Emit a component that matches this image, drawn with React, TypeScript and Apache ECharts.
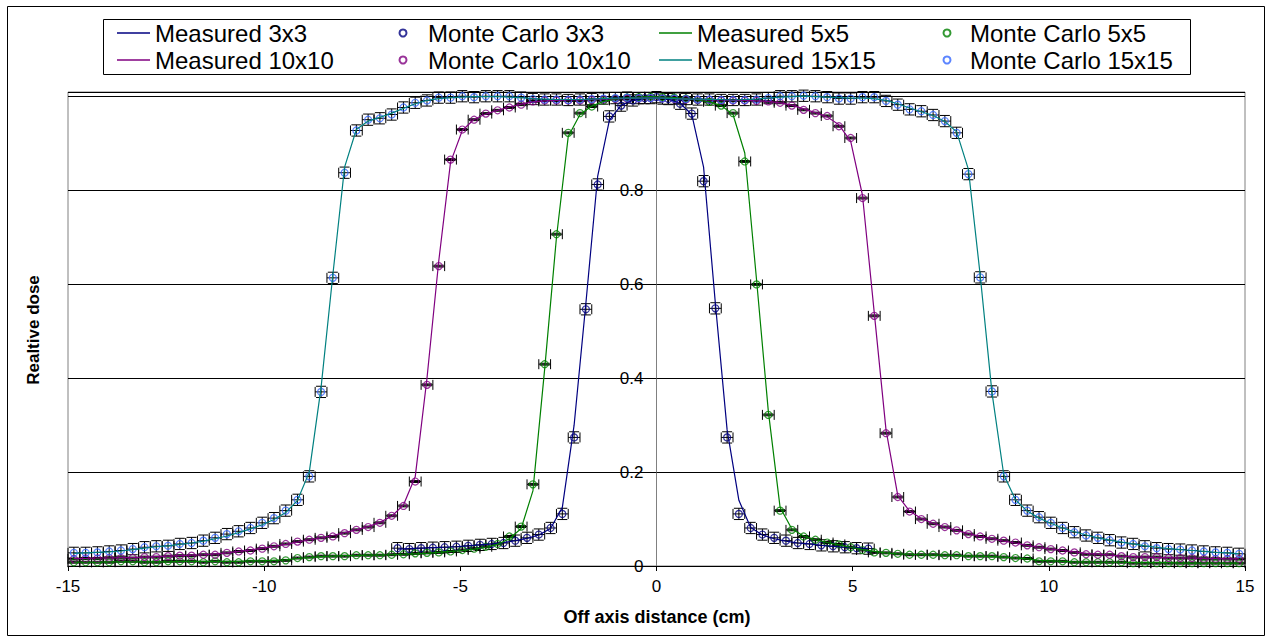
import React, { useEffect, useRef } from 'react';
import * as echarts from 'echarts';

const FONT = '"Liberation Sans", Arial, Helvetica, sans-serif';

// ---- x positions (cm) ----
const xVoxel = [
  -14.85, -14.55, -14.25, -13.95, -13.65, -13.35, -13.05, -12.75, -12.45, -12.15,
  -11.85, -11.55, -11.25, -10.95, -10.65, -10.35, -10.05, -9.75, -9.45, -9.15,
  -8.85, -8.55, -8.25, -7.95, -7.65, -7.35, -7.05, -6.75, -6.45, -6.15,
  -5.85, -5.55, -5.25, -4.95, -4.65, -4.35, -4.05, -3.75, -3.45, -3.15,
  -2.85, -2.55, -2.25, -1.95, -1.65, -1.35, -1.05, -0.75, -0.45, -0.15,
  0.15, 0.45, 0.75, 1.05, 1.35, 1.65, 1.95, 2.25, 2.55, 2.85,
  3.15, 3.45, 3.75, 4.05, 4.35, 4.65, 4.95, 5.25, 5.55, 5.85,
  6.15, 6.45, 6.75, 7.05, 7.35, 7.65, 7.95, 8.25, 8.55, 8.85,
  9.15, 9.45, 9.75, 10.05, 10.35, 10.65, 10.95, 11.25, 11.55, 11.85,
  12.15, 12.45, 12.75, 13.05, 13.35, 13.65, 13.95, 14.25, 14.55, 14.85,
];
const x3 = [
  -6.6, -6.3, -6.0, -5.7, -5.4, -5.1, -4.8, -4.5, -4.2, -3.9,
  -3.6, -3.3, -3.0, -2.7, -2.4, -2.1, -1.8, -1.5, -1.2, -0.9,
  -0.6, -0.3, 0, 0.3, 0.6, 0.9, 1.2, 1.5, 1.8, 2.1,
  2.4, 2.7, 3.0, 3.3, 3.6, 3.9, 4.2, 4.5, 4.8, 5.1, 5.4,
];

// ---- 3x3 ----
const measured3 = [
  0.036, 0.037, 0.038, 0.039, 0.040, 0.041, 0.043, 0.045, 0.047, 0.050,
  0.054, 0.059, 0.066, 0.080, 0.125, 0.300, 0.560, 0.830, 0.950, 0.982,
  0.992, 0.997, 0.999, 0.995, 0.986, 0.962, 0.850, 0.560, 0.290, 0.140,
  0.082, 0.066, 0.058, 0.053, 0.049, 0.047, 0.044, 0.042, 0.040, 0.039, 0.037,
];
const monteCarlo3 = [
  0.038, 0.036, 0.038, 0.039, 0.040, 0.041, 0.043, 0.045, 0.047, 0.049,
  0.054, 0.060, 0.067, 0.081, 0.111, 0.274, 0.547, 0.813, 0.958, 0.981,
  0.992, 0.997, 0.999, 0.995, 0.985, 0.964, 0.820, 0.549, 0.274, 0.111,
  0.081, 0.067, 0.060, 0.054, 0.049, 0.047, 0.044, 0.042, 0.040, 0.038, 0.037,
];

// ---- 5x5 ----
const measured5 = [
  0.008, 0.008, 0.008, 0.009, 0.009, 0.009, 0.009, 0.009, 0.009, 0.010,
  0.010, 0.010, 0.010, 0.010, 0.010, 0.011, 0.011, 0.012, 0.013, 0.016,
  0.018, 0.020, 0.021, 0.022, 0.022, 0.023, 0.023, 0.024, 0.025, 0.026,
  0.027, 0.029, 0.031, 0.033, 0.036, 0.040, 0.046, 0.058, 0.080, 0.160,
  0.420, 0.700, 0.915, 0.962, 0.980, 0.990, 0.995, 0.997, 0.999, 1.000,
  0.999, 0.998, 0.996, 0.993, 0.989, 0.981, 0.962, 0.880, 0.610, 0.330,
  0.125, 0.079, 0.064, 0.056, 0.050, 0.045, 0.040, 0.035, 0.031, 0.028,
  0.026, 0.025, 0.024, 0.023, 0.023, 0.022, 0.021, 0.021, 0.020, 0.019,
  0.017, 0.015, 0.012, 0.011, 0.010, 0.009, 0.009, 0.008, 0.008, 0.008,
  0.007, 0.007, 0.007, 0.007, 0.006, 0.006, 0.006, 0.006, 0.006, 0.006,
];
const monteCarlo5 = [
  0.008, 0.008, 0.008, 0.008, 0.010, 0.010, 0.008, 0.008, 0.010, 0.010,
  0.010, 0.008, 0.010, 0.008, 0.008, 0.010, 0.010, 0.010, 0.012, 0.017,
  0.019, 0.021, 0.021, 0.021, 0.023, 0.023, 0.023, 0.024, 0.025, 0.027,
  0.028, 0.029, 0.031, 0.034, 0.037, 0.041, 0.047, 0.063, 0.084, 0.174,
  0.430, 0.707, 0.923, 0.965, 0.979, 0.992, 0.996, 0.998, 0.999, 1.000,
  0.999, 0.998, 0.996, 0.993, 0.989, 0.981, 0.965, 0.862, 0.600, 0.322,
  0.118, 0.077, 0.063, 0.056, 0.050, 0.046, 0.040, 0.034, 0.029, 0.028,
  0.026, 0.024, 0.024, 0.024, 0.023, 0.023, 0.021, 0.021, 0.021, 0.019,
  0.017, 0.016, 0.010, 0.010, 0.010, 0.008, 0.008, 0.008, 0.008, 0.008,
  0.006, 0.006, 0.006, 0.006, 0.006, 0.006, 0.006, 0.006, 0.006, 0.006,
];

// ---- 10x10 ----
const measured10 = [
  0.016, 0.016, 0.017, 0.017, 0.018, 0.018, 0.019, 0.020, 0.021, 0.022,
  0.023, 0.024, 0.026, 0.028, 0.031, 0.034, 0.038, 0.042, 0.046, 0.051,
  0.056, 0.060, 0.065, 0.071, 0.077, 0.084, 0.093, 0.106, 0.130, 0.190,
  0.400, 0.650, 0.860, 0.928, 0.952, 0.963, 0.971, 0.978, 0.984, 0.989,
  0.991, 0.992, 0.993, 0.993, 0.994, 0.995, 0.996, 0.996, 0.997, 0.997,
  0.997, 0.996, 0.995, 0.994, 0.993, 0.993, 0.992, 0.992, 0.991, 0.990,
  0.987, 0.982, 0.974, 0.966, 0.957, 0.940, 0.905, 0.790, 0.540, 0.290,
  0.150, 0.117, 0.101, 0.091, 0.083, 0.076, 0.069, 0.063, 0.058, 0.053,
  0.049, 0.044, 0.040, 0.036, 0.033, 0.030, 0.027, 0.025, 0.023, 0.021,
  0.020, 0.019, 0.018, 0.018, 0.017, 0.017, 0.016, 0.016, 0.015, 0.015,
];
const monteCarlo10 = [
  0.015, 0.016, 0.016, 0.017, 0.017, 0.017, 0.019, 0.019, 0.021, 0.022,
  0.022, 0.024, 0.024, 0.028, 0.031, 0.033, 0.037, 0.042, 0.047, 0.052,
  0.056, 0.060, 0.063, 0.070, 0.077, 0.083, 0.092, 0.107, 0.128, 0.180,
  0.386, 0.639, 0.866, 0.930, 0.951, 0.964, 0.971, 0.977, 0.983, 0.990,
  0.992, 0.992, 0.992, 0.992, 0.993, 0.994, 0.995, 0.996, 0.996, 0.997,
  0.996, 0.995, 0.994, 0.993, 0.993, 0.992, 0.992, 0.992, 0.991, 0.990,
  0.987, 0.981, 0.972, 0.965, 0.959, 0.937, 0.912, 0.784, 0.533, 0.283,
  0.147, 0.116, 0.100, 0.090, 0.083, 0.076, 0.068, 0.063, 0.058, 0.054,
  0.050, 0.044, 0.040, 0.036, 0.033, 0.029, 0.025, 0.024, 0.024, 0.021,
  0.019, 0.019, 0.019, 0.017, 0.017, 0.017, 0.015, 0.015, 0.015, 0.015,
];

// ---- 15x15 ----
const measured15 = [
  0.027, 0.028, 0.029, 0.030, 0.032, 0.035, 0.038, 0.041, 0.043, 0.046,
  0.049, 0.053, 0.058, 0.064, 0.071, 0.079, 0.088, 0.099, 0.114, 0.140,
  0.200, 0.380, 0.620, 0.850, 0.930, 0.948, 0.956, 0.965, 0.975, 0.985,
  0.992, 0.996, 0.998, 0.999, 1.000, 1.000, 1.000, 0.999, 0.998, 0.996,
  0.995, 0.994, 0.994, 0.994, 0.995, 0.996, 0.997, 0.997, 0.997, 0.997,
  0.997, 0.996, 0.995, 0.995, 0.994, 0.994, 0.993, 0.994, 0.995, 0.997,
  0.999, 1.000, 1.001, 1.000, 0.999, 0.998, 0.997, 0.997, 0.996, 0.992,
  0.985, 0.976, 0.968, 0.960, 0.947, 0.925, 0.845, 0.620, 0.370, 0.195,
  0.141, 0.117, 0.102, 0.091, 0.081, 0.073, 0.066, 0.060, 0.055, 0.051,
  0.047, 0.043, 0.040, 0.037, 0.035, 0.033, 0.031, 0.029, 0.028, 0.026,
];
const monteCarlo15 = [
  0.028, 0.028, 0.029, 0.031, 0.033, 0.036, 0.040, 0.042, 0.043, 0.047,
  0.049, 0.054, 0.060, 0.068, 0.074, 0.081, 0.092, 0.102, 0.118, 0.141,
  0.191, 0.371, 0.614, 0.838, 0.928, 0.951, 0.954, 0.962, 0.977, 0.987,
  0.992, 0.998, 0.998, 1.001, 0.999, 1.001, 1.001, 1.001, 0.998, 0.995,
  0.994, 0.994, 0.993, 0.994, 0.995, 0.996, 0.997, 0.998, 0.997, 0.997,
  0.996, 0.996, 0.995, 0.994, 0.994, 0.993, 0.993, 0.993, 0.994, 0.997,
  1.001, 1.001, 1.002, 1.001, 0.999, 0.996, 0.996, 0.999, 0.999, 0.991,
  0.983, 0.973, 0.969, 0.961, 0.948, 0.923, 0.835, 0.615, 0.372, 0.191,
  0.141, 0.118, 0.104, 0.092, 0.081, 0.072, 0.065, 0.060, 0.055, 0.050,
  0.047, 0.042, 0.038, 0.036, 0.035, 0.033, 0.031, 0.029, 0.028, 0.026,
];

// error bar half-widths (data units)
const xError = 0.15;
const yError3 = 0.012;
const yError5 = 0.002;
const yError10 = 0.002;
const yError15 = 0.012;

const xTicks = [-15, -10, -5, 0, 5, 10, 15];

const C3 = '#000080';
const C5 = '#008000';
const C10 = '#800080';
const C15L = '#008080';
const C15M = '#3366ff';

const CAP = 5;

// plot geometry
const GRID_LEFT = 68;
const GRID_RIGHT = 25;
const CHART_W = 1270;

function pairs(xs: number[], ys: number[]) {
  return xs.map((x, i) => [x, ys[i]]);
}

function lineSeries(name: string, xs: number[], ys: number[], color: string) {
  return {
    type: 'line',
    name,
    data: pairs(xs, ys),
    symbol: 'none',
    showSymbol: false,
    silent: true,
    lineStyle: { color, width: 1.2 },
    itemStyle: { color },
  };
}

function scatterSeries(name: string, xs: number[], ys: number[], color: string) {
  return {
    type: 'scatter',
    name,
    data: pairs(xs, ys),
    symbol: 'circle',
    symbolSize: 7,
    silent: true,
    itemStyle: { color: 'rgba(255,255,255,0)', borderColor: color, borderWidth: 1.2 },
  };
}

function errorSeries(id: string, xs: number[], ys: number[], yErr: number) {
  return {
    type: 'custom',
    name: id,
    silent: true,
    clip: false,
    data: pairs(xs, ys),
    encode: { x: 0, y: 1 },
    renderItem: (_params: any, api: any) => {
      const x = api.value(0);
      const y = api.value(1);
      const c = api.coord([x, y]);
      const l = api.coord([x - xError, y])[0];
      const r = api.coord([x + xError, y])[0];
      const t = api.coord([x, y + yErr])[1];
      const b = api.coord([x, y - yErr])[1];
      const style = { stroke: '#000', lineWidth: 1, fill: null };
      const seg = (x1: number, y1: number, x2: number, y2: number) => ({
        type: 'line',
        shape: { x1, y1, x2, y2 },
        style,
      });
      return {
        type: 'group',
        children: [
          seg(l, c[1], r, c[1]),
          seg(l, c[1] - CAP, l, c[1] + CAP),
          seg(r, c[1] - CAP, r, c[1] + CAP),
          seg(c[0], t, c[0], b),
          seg(c[0] - CAP, t, c[0] + CAP, t),
          seg(c[0] - CAP, b, c[0] + CAP, b),
        ],
      };
    },
  };
}

const legendBase = {
  orient: 'vertical',
  top: 21,
  itemGap: 3,
  padding: 0,
  selectedMode: false,
  textStyle: { fontSize: 24, fontFamily: FONT, color: '#000', lineHeight: 24 },
};
const lineLegend = { ...legendBase, icon: 'rect', symbolKeepAspect: false, itemWidth: 33, itemHeight: 1.5 };
const dotLegend = { ...legendBase, itemHeight: 7 };

export default function App() {
  const ref = useRef<HTMLDivElement>(null);
  useEffect(() => {
    if (!ref.current) return;
    const chart = echarts.init(ref.current, null, { renderer: 'svg' });
    const plotWidth = CHART_W - GRID_LEFT - GRID_RIGHT;
    const zeroOffset = -plotWidth * (0 - xTicks[0]) / (xTicks[xTicks.length - 1] - xTicks[0]);
    const option: any = {
      animation: false,
      backgroundColor: '#fff',
      textStyle: { fontFamily: FONT },
      grid: {
        left: GRID_LEFT,
        right: GRID_RIGHT,
        top: 92,
        bottom: 73,
        show: true,
        borderColor: '#808080',
        borderWidth: 1,
        containLabel: false,
      },
      legend: [
        { ...lineLegend, left: 117, data: ['Measured 3x3', 'Measured 10x10'] },
        { ...dotLegend, left: 398.5, itemWidth: 40, data: ['Monte Carlo 3x3', 'Monte Carlo 10x10'] },
        { ...lineLegend, left: 659, data: ['Measured 5x5', 'Measured 15x15'] },
        { ...dotLegend, left: 942.5, itemWidth: 36, data: ['Monte Carlo 5x5', 'Monte Carlo 15x15'] },
      ],
      xAxis: {
        type: 'value',
        min: xTicks[0],
        max: xTicks[xTicks.length - 1],
        interval: 5,
        axisLine: { show: true, onZero: false, lineStyle: { color: '#000', width: 1 } },
        axisTick: { show: true, inside: false, length: 5, lineStyle: { color: '#000' } },
        axisLabel: { fontSize: 17, color: '#000', fontFamily: FONT, margin: 12 },
        splitLine: { show: false },
      },
      yAxis: {
        type: 'value',
        min: 0,
        max: 1.01,
        interval: 0.2,
        offset: zeroOffset,
        axisLine: { show: true, onZero: false, lineStyle: { color: '#808080', width: 1 } },
        axisTick: { show: true, inside: false, length: 4, lineStyle: { color: '#000' } },
        axisLabel: {
          fontSize: 17,
          color: '#000',
          fontFamily: FONT,
          margin: 13,
          formatter: (v: number) => (v > 0.9 ? '' : String(Math.round(v * 10) / 10)),
        },
        splitLine: { show: true, lineStyle: { color: '#000', width: 1 } },
      },
      graphic: [
        {
          type: 'rect',
          shape: { x: 7.5, y: 6.5, width: 1257, height: 629 },
          style: { fill: 'none', stroke: '#000', lineWidth: 1 },
          silent: true,
        },
        {
          type: 'rect',
          shape: { x: 103.5, y: 19.5, width: 1087, height: 55 },
          style: { fill: 'none', stroke: '#000', lineWidth: 1 },
          silent: true,
        },
        {
          type: 'text',
          x: 657,
          y: 617,
          style: {
            text: 'Off axis distance (cm)',
            fontSize: 18,
            fontWeight: 'bold',
            fontFamily: FONT,
            fill: '#000',
            align: 'center',
            verticalAlign: 'middle',
          },
          silent: true,
        },
        {
          type: 'text',
          x: 33,
          y: 330,
          rotation: Math.PI / 2,
          style: {
            text: 'Realtive dose',
            fontSize: 17,
            fontWeight: 'bold',
            fontFamily: FONT,
            fill: '#000',
            align: 'center',
            verticalAlign: 'middle',
          },
          silent: true,
        },
      ],
      series: [
        lineSeries('Measured 3x3', x3, measured3, C3),
        scatterSeries('Monte Carlo 3x3', x3, monteCarlo3, C3),
        errorSeries('err3', x3, monteCarlo3, yError3),
        lineSeries('Measured 5x5', xVoxel, measured5, C5),
        scatterSeries('Monte Carlo 5x5', xVoxel, monteCarlo5, C5),
        errorSeries('err5', xVoxel, monteCarlo5, yError5),
        lineSeries('Measured 10x10', xVoxel, measured10, C10),
        scatterSeries('Monte Carlo 10x10', xVoxel, monteCarlo10, C10),
        errorSeries('err10', xVoxel, monteCarlo10, yError10),
        lineSeries('Measured 15x15', xVoxel, measured15, C15L),
        scatterSeries('Monte Carlo 15x15', xVoxel, monteCarlo15, C15M),
        errorSeries('err15', xVoxel, monteCarlo15, yError15),
      ],
    };
    chart.setOption(option);
    return () => chart.dispose();
  }, []);
  return (
    <div
      ref={ref}
      style={{ position: 'fixed', left: 0, top: 0, width: 1270, height: 639, background: '#fff' }}
    />
  );
}
